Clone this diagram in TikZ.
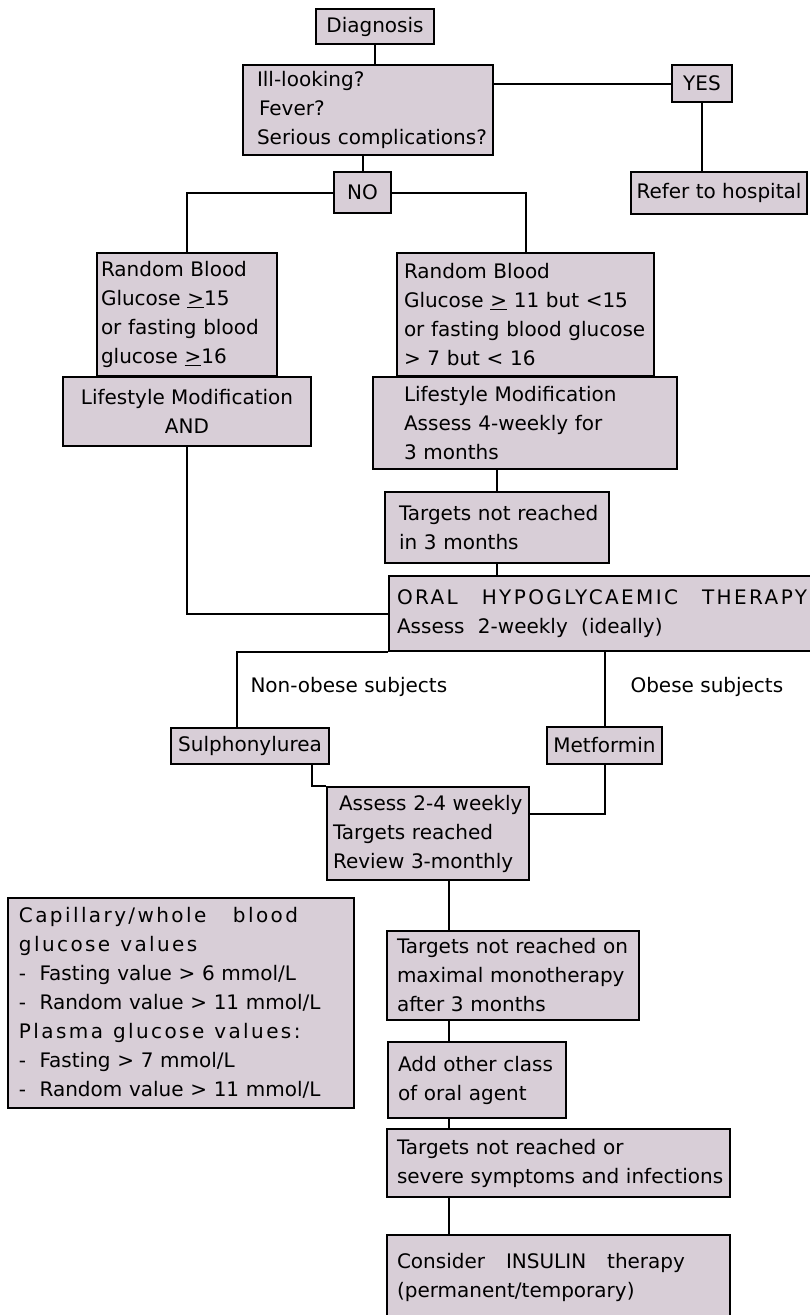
\documentclass[tikz,border=0pt]{standalone}
\usepackage{fontspec}
\setmainfont{DejaVu Sans}
\newfontfamily\spaced[LetterSpace=12]{DejaVu Sans}
\newcommand{\boxfont}{\fontsize{20}{29}\selectfont\hyphenpenalty=10000\exhyphenpenalty=10000}
\definecolor{boxfill}{RGB}{216,206,215}
\begin{document}
\begin{tikzpicture}[x=1pt,y=-1pt]
\tikzstyle{every node}+=[font=\boxfont]
\tikzstyle{box}=[draw=black, fill=boxfill, line width=1.8pt, inner ysep=0pt, align=left]
\tikzstyle{connline}=[draw=black, line width=2pt]
\useasboundingbox (0,0) rectangle (810,1315);
\node [box, align=center, inner xsep=4pt, minimum width=118pt, minimum height=35pt] (diag) at (375,26.5) {Diagnosis};
\node [box, inner xsep=14pt, text width=222pt, minimum height=90pt] (ill) at (368,110) {Ill-looking?\\\hspace*{2pt}Fever?\\\mbox{Serious complications?}};
\node [box, align=center, inner xsep=4pt, minimum width=60pt, minimum height=37pt] (yes) at (702,83.5) {YES};
\node [box, align=center, inner xsep=4pt, minimum width=176pt, minimum height=42pt] (refer) at (719,193) {Refer to hospital};
\node [box, align=center, inner xsep=4pt, minimum width=57pt, minimum height=41pt] (no) at (362.5,192.5) {NO};
\node [box, inner xsep=4pt, text width=172pt, minimum height=123pt] (rbl) at (187,314.5) {Random Blood\\Glucose \underline{>}15\\or fasting blood\\glucose \underline{>}16};
\node [box, inner xsep=7pt, text width=243pt, minimum height=123pt] (rbr) at (525.5,314.5) {Random Blood\\Glucose \underline{>} 11 but <15\\\mbox{or fasting blood glucose}\\> 7 but < 16};
\node [box, align=center, inner xsep=4pt, minimum width=248pt, minimum height=69pt] (lml) at (187,411.5) {Lifestyle Modification\\AND};
\node [box, inner xsep=31pt, text width=242pt, minimum height=92pt] (lmr) at (525,423) {Lifestyle Modification\\Assess 4-weekly for\\3 months};
\node [box, inner xsep=14pt, text width=196pt, minimum height=71pt] (tnr) at (497,527.5) {\mbox{Targets not reached}\\in 3 months};
\node [box, inner xsep=8pt, text width=410pt, minimum height=75pt] (oral) at (602,613.5) {\makebox[410pt][l]{\spaced ORAL\hfill HYPOGLYCAEMIC\hfill THERAPY}\\Assess\ \ 2-weekly\ \ (ideally)};
\node [anchor=west] (nonob) at (247,687) {Non-obese subjects};
\node [anchor=west] (obese) at (627,687) {Obese subjects};
\node [box, align=center, inner xsep=4pt, minimum width=158pt, minimum height=36pt] (sulph) at (250,746) {Sulphonylurea};
\node [box, align=center, inner xsep=4pt, minimum width=115pt, minimum height=37pt] (metf) at (604.5,745.5) {Metformin};
\node [box, inner xsep=6pt, text width=190pt, minimum height=93pt] (assess) at (428,833.5) {\mbox{\hspace*{6pt}Assess 2-4 weekly}\\Targets reached\\Review 3-monthly};
\node [box, inner xsep=11pt, text width=324pt, minimum height=210pt] (capil) at (181,1003) {\makebox[279pt][l]{\spaced Capillary/whole\hfill blood}\\{\spaced glucose\hspace{10pt}values}\\-\ \ Fasting value > 6 mmol/L\\-\ \ Random value > 11 mmol/L\\{\spaced Plasma\hspace{10pt}glucose\hspace{10pt}values:}\\-\ \ Fasting > 7 mmol/L\\-\ \ Random value > 11 mmol/L};
\node [box, inner xsep=10pt, text width=232pt, minimum height=89pt] (tnro) at (513,975.5) {\mbox{Targets not reached on}\\maximal monotherapy\\after 3 months};
\node [box, inner xsep=10pt, text width=158pt, minimum height=76pt] (addc) at (477,1080) {\mbox{Add other class}\\of oral agent};
\node [box, inner xsep=10pt, text width=323pt, minimum height=68pt] (tnrs) at (558.5,1163) {Targets not reached or\\\mbox{severe symptoms and infections}};
\node [box, inner xsep=10pt, text width=323pt, minimum height=85pt] (insul) at (558.5,1277.5) {\makebox[288pt][l]{Consider\hfill INSULIN\hfill therapy}\\(permanent/temporary)};
\coordinate (sulphin) at (237,0);
\coordinate (sulphout) at (312,0);
\coordinate (trunk) at (449,0);
\draw [connline] (diag.south) -- (diag.south |- ill.north);
\draw [connline] (ill.east |- yes.west) -- (yes.west);
\draw [connline] (yes.south) -- (yes.south |- refer.north);
\draw [connline] (no.north) -- (no.north |- ill.south);
\draw [connline] (no.west) -| (rbl.north);
\draw [connline] (no.east) -| (rbr.north);
\draw [connline] (lml.south) |- (oral.west);
\draw [connline] (tnr.north |- lmr.south) -- (tnr.north);
\draw [connline] (tnr.south) -- (tnr.south |- oral.north);
\draw [connline] (oral.south west) -| (sulph.north -| sulphin);
\draw [connline] (metf.north |- oral.south) -- (metf.north);
\draw [connline] (sulph.south -| sulphout) |- (assess.north west);
\draw [connline] (metf.south) |- ([yshift=20pt]assess.east);
\draw [connline] (assess.south -| trunk) -- (tnro.north -| trunk);
\draw [connline] (tnro.south -| trunk) -- (addc.north -| trunk);
\draw [connline] (addc.south -| trunk) -- (tnrs.north -| trunk);
\draw [connline] (tnrs.south -| trunk) -- (insul.north -| trunk);
\end{tikzpicture}
\end{document}
